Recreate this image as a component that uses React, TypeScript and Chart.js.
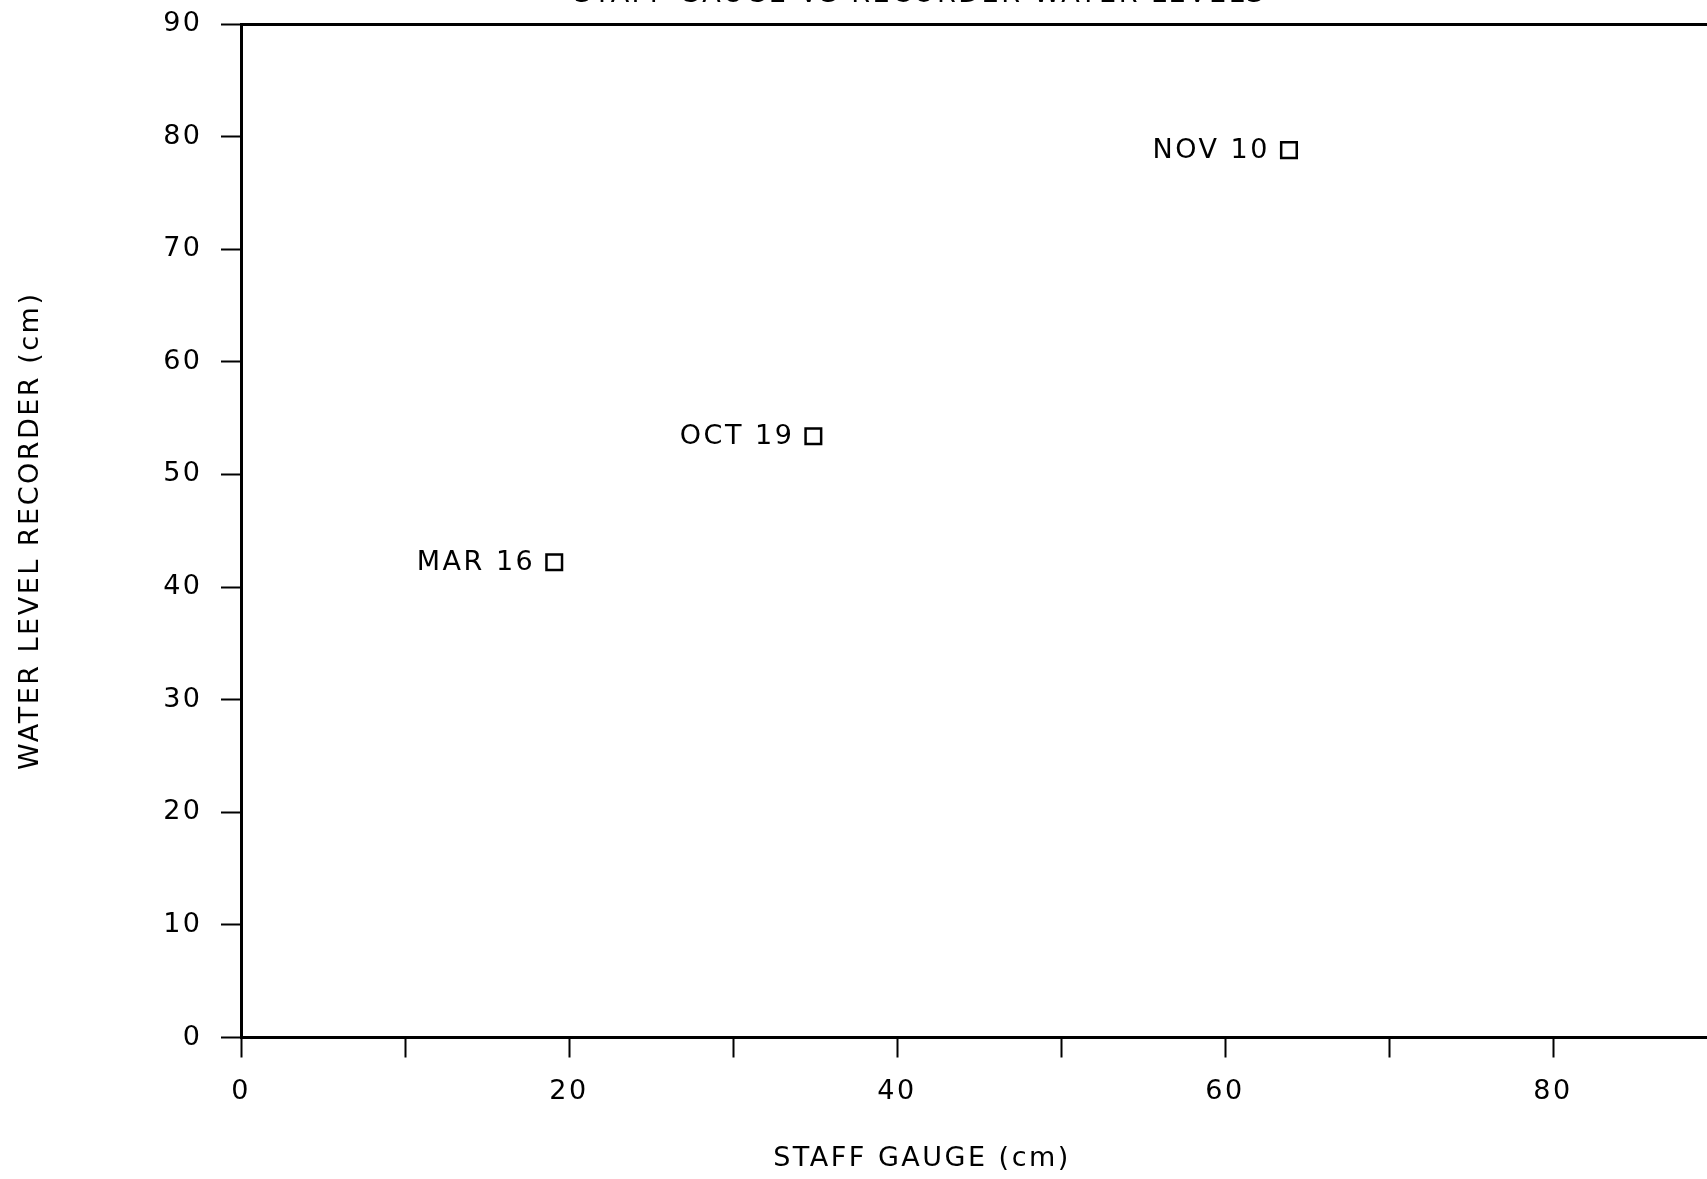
import React, { useEffect, useRef } from 'react';
import { Chart, registerables } from 'chart.js';

Chart.register(...registerables);

// ---- data ----
const chartTitle = 'STAFF GAUGE VS RECORDER WATER LEVELS';
const xAxisTitle = 'STAFF GAUGE (cm)';
const yAxisTitle = 'WATER LEVEL RECORDER (cm)';
const pointLabels = ['MAR 16', 'OCT 19', 'NOV 10'];
const staffGauge = [19.1, 34.9, 63.9];
const recorderLevel = [42.2, 53.4, 78.8];
const xRange = [0, 90];
const yRange = [0, 90];
const tickStep = 10;
const xLabelStep = 20;

// ---- style ----
const FONT = '"DejaVu Sans", sans-serif';
const SIZE = 27;
const SPACING = '2.5px';
const CANVAS_W = 1740;
const CANVAS_H = 1179;

const setSpacing = (chart: any) => {
  try {
    (chart.ctx as any).letterSpacing = SPACING;
  } catch (e) {}
};

const textPlugin = {
  id: 'plotterText',
  beforeUpdate: setSpacing,
  beforeLayout: setSpacing,
  beforeDraw: setSpacing,
  afterDatasetsDraw(chart: any) {
    const ctx = chart.ctx;
    const meta = chart.getDatasetMeta(0);
    const { left, right } = chart.chartArea;
    ctx.save();
    (ctx as any).letterSpacing = SPACING;
    ctx.font = `${SIZE}px ${FONT}`;
    ctx.fillStyle = '#000';
    ctx.textAlign = 'right';
    ctx.textBaseline = 'middle';
    meta.data.forEach((pt: any, i: number) => {
      ctx.fillText(pointLabels[i], pt.x - 19, pt.y + 1);
    });
    ctx.textAlign = 'center';
    ctx.fillText(xAxisTitle, left + (right - left) * 0.4614, chart.scales.x.bottom - 20);
    ctx.textBaseline = 'alphabetic';
    ctx.fillText(chartTitle, left + (right - left) * 0.46, 2);
    ctx.restore();
  },
};

const zeroPad = (s: any) => {
  s.paddingTop = 0;
  s.paddingBottom = 0;
  s.paddingLeft = 0;
  s.paddingRight = 0;
};

export default function App() {
  const ref = useRef<HTMLCanvasElement | null>(null);

  useEffect(() => {
    if (!ref.current) return;
    const tickGrid = {
      display: true,
      drawOnChartArea: false,
      drawTicks: true,
      tickLength: 20,
      tickWidth: 2,
      tickColor: '#000',
      color: '#000',
    };
    const chart = new Chart(ref.current, {
      type: 'scatter',
      data: {
        datasets: [
          {
            data: staffGauge.map((x, i) => ({ x, y: recorderLevel[i] })),
            pointStyle: 'rect',
            pointRadius: 11,
            pointHoverRadius: 11,
            pointBorderWidth: 2.5,
            pointBorderColor: '#000',
            pointBackgroundColor: 'rgba(255,255,255,0)',
            showLine: false,
          },
        ],
      },
      plugins: [textPlugin],
      options: {
        animation: false,
        responsive: false,
        devicePixelRatio: 1,
        events: [],
        layout: { padding: { top: 24, right: CANVAS_W - 1717, bottom: 0, left: 0 } },
        plugins: {
          legend: { display: false },
          title: { display: false },
          tooltip: { enabled: false },
        },
        scales: {
          x: {
            type: 'linear',
            position: 'bottom',
            min: xRange[0],
            max: xRange[1],
            grid: tickGrid,
            border: { display: true, color: '#000', width: 3 },
            ticks: {
              stepSize: tickStep,
              autoSkip: false,
              maxRotation: 0,
              padding: 18,
              color: '#000',
              font: { family: FONT, size: SIZE },
              callback: (v: any) => (Number(v) % xLabelStep === 0 ? String(v) : ''),
            },
            afterFit: (s: any) => {
              s.height = CANVAS_H - 1037.5;
              zeroPad(s);
            },
          },
          x2: {
            type: 'linear',
            position: 'top',
            min: xRange[0],
            max: xRange[1],
            grid: { display: false, drawTicks: false },
            border: { display: true, color: '#000', width: 3 },
            ticks: { display: false },
            afterFit: (s: any) => {
              s.height = 0;
              zeroPad(s);
            },
          },
          y: {
            type: 'linear',
            position: 'left',
            min: yRange[0],
            max: yRange[1],
            grid: tickGrid,
            border: { display: true, color: '#000', width: 3 },
            ticks: {
              stepSize: tickStep,
              autoSkip: false,
              padding: 18.5,
              color: '#000',
              font: { family: FONT, size: SIZE },
            },
            title: {
              display: true,
              text: yAxisTitle,
              color: '#000',
              font: { family: FONT, size: SIZE },
              padding: { top: 15, bottom: 0 },
            },
            afterFit: (s: any) => {
              s.width = 241;
              zeroPad(s);
            },
          },
        },
      },
    } as any);
    return () => chart.destroy();
  }, []);

  return (
    <div
      style={{
        position: 'fixed',
        left: 0,
        top: 0,
        width: '1707px',
        height: '1179px',
        overflow: 'hidden',
        background: '#fff',
      }}
    >
      <canvas
        ref={ref}
        width={CANVAS_W}
        height={CANVAS_H}
        style={{ display: 'block', width: CANVAS_W + 'px', height: CANVAS_H + 'px' }}
      />
    </div>
  );
}
